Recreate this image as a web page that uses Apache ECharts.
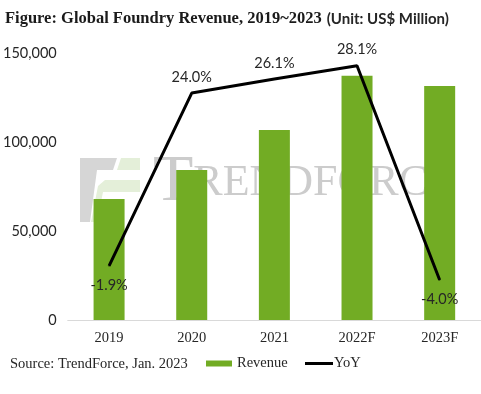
<!DOCTYPE html>
<html>
<head>
<meta charset="utf-8">
<script src="https://cdn.jsdelivr.net/npm/echarts@6/dist/echarts.min.js"></script>
<style>html,body{margin:0;padding:0;background:#fff;}#c{width:481px;height:394px;}</style>
</head>
<body>
<div id="c"></div>
<script>
const categories = ['2019', '2020', '2021', '2022F', '2023F'];
const revenue = [68000, 84300, 106700, 137200, 131500];
const yoy = [-1.9, 24.0, 26.1, 28.1, -4.0];
const revenueTicks = [0, 50000, 100000, 150000];

const serif = '"Liberation Serif", "DejaVu Serif", serif';
const sans = 'Lato, "Open Sans", sans-serif';
const chart = echarts.init(document.getElementById('c'));
chart.setOption({
  animation: false,
  title: {
    left: 5, top: 10, padding: 0,
    text: '{b|Figure: Global Foundry Revenue, 2019~2023} {n|(Unit: US$ Million)}',
    textStyle: {
      rich: {
        b: { fontFamily: serif, fontWeight: 'bold', fontSize: 16.5, color: '#1a1a1a' },
        n: { fontFamily: sans, fontSize: 15, color: '#262626' }
      }
    }
  },
  graphic: [
    { type: 'polygon', z: 0, shape: { points: [[80,158],[117,158],[113,170],[97,170],[90,222],[80,222]] }, style: { fill: '#d6d6d6' } },
    { type: 'polygon', z: 0, shape: { points: [[121,158],[140,158],[140,170],[117,170]] }, style: { fill: '#e4efd9' } },
    { type: 'polygon', z: 0, shape: { points: [[105,180],[140,180],[140,192],[103,192],[97,222],[91,222],[98,186]] }, style: { fill: '#e4efd9' } },
    { type: 'text', z: 0, x: 153, y: 216, style: {
        text: '{a|T}{b|RENDFORCE}', textVerticalAlign: 'bottom',
        rich: { a: { fontFamily: serif, fontSize: 66, fill: '#cccccc', color: '#cccccc' }, b: { fontFamily: serif, fontSize: 44, fill: '#cccccc', color: '#cccccc' } }
    } },
    { type: 'text', x: 10, y: 364, style: { text: 'Source: TrendForce, Jan. 2023', font: '14.5px ' + serif, fill: '#262626', textVerticalAlign: 'middle' } }
  ],
  legend: [
    { data: ['Revenue'], left: 206, top: 356, padding: 0, icon: 'rect', itemWidth: 26, itemHeight: 6, itemGap: 5,
      textStyle: { fontFamily: serif, fontSize: 14.5, color: '#262626' } },
    { data: ['YoY'], left: 305, top: 356, padding: 0, icon: 'rect', itemWidth: 28, itemHeight: 3, itemGap: 5,
      textStyle: { fontFamily: serif, fontSize: 14.5, color: '#262626', padding: [0, 0, 0, -4] } }
  ],
  grid: { left: 64, top: 53, width: 428, height: 267, containLabel: false },
  xAxis: {
    type: 'category', data: categories,
    axisTick: { show: false },
    axisLine: { lineStyle: { color: '#d9d9d9', width: 1 } },
    axisLabel: { fontFamily: serif, fontSize: 14.5, color: '#262626', margin: 11 }
  },
  yAxis: [
    { type: 'value', min: revenueTicks[0], max: revenueTicks[revenueTicks.length - 1], interval: revenueTicks[1] - revenueTicks[0],
      splitLine: { show: false }, axisLine: { show: false }, axisTick: { show: false },
      axisLabel: { fontFamily: sans, fontSize: 14.5, color: '#262626', margin: 11,
        formatter: v => v.toLocaleString('en-US') } },
    { type: 'value', min: -10, max: 30, show: false, splitLine: { show: false } }
  ],
  series: [
    { name: 'Revenue', type: 'bar', data: revenue, barWidth: 31, z: 2,
      itemStyle: { color: '#72ac24' } },
    { name: 'YoY', type: 'line', yAxisIndex: 1, z: 3,
      data: yoy.map(v => ({ value: v, label: { position: v < 0 ? 'bottom' : 'top', distance: v < 0 ? 11 : 8 } })),
      symbol: 'circle', symbolSize: 1,
      itemStyle: { color: '#000' },
      lineStyle: { color: '#000', width: 3 },
      label: { show: true, fontFamily: sans, fontSize: 14.5, color: '#262626',
        formatter: p => p.value.toFixed(1) + '%' } }
  ]
});
</script>
</body>
</html>
